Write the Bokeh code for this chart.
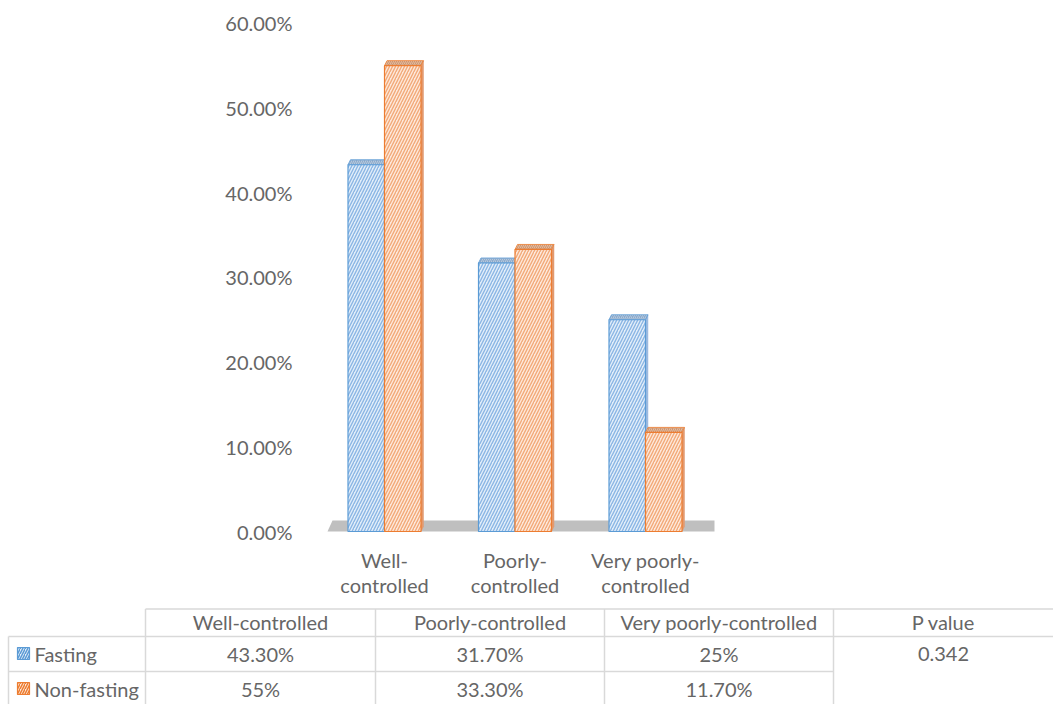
from bokeh.plotting import figure
from bokeh.layouts import column
from bokeh.models import Range1d, FixedTicker, PrintfTickFormatter, ColumnDataSource
from bokeh.core.properties import value
from bokeh.embed import file_html
from bokeh.resources import INLINE

# ---- data ----
categories = ["Well-controlled", "Poorly-controlled", "Very poorly-controlled"]
axis_labels = ["Well-\ncontrolled", "Poorly-\ncontrolled", "Very poorly-\ncontrolled"]
fasting = [43.3, 31.7, 25.0]
non_fasting = [55.0, 33.3, 11.7]
fasting_labels = ["43.30%", "31.70%", "25%"]
non_fasting_labels = ["55%", "33.30%", "11.70%"]
series_names = ["Fasting", "Non-fasting"]
p_value = "0.342"
y_ticks = [0, 10, 20, 30, 40, 50, 60]

FONT = "Lato"
FS = "20px"
TXT = "#666666"
GRID = "#d9d9d9"
BLUE_LINE, BLUE_FILL, BLUE_HATCH, BLUE_TOP = "#5b9bd5", "#e3eef9", "#8ab6e4", "#8eabcb"
ORNG_LINE, ORNG_FILL, ORNG_HATCH, ORNG_TOP = "#ed7d31", "#fde9dc", "#f2a978", "#cf9670"

W, H_CHART, H_TABLE = 1053, 604, 100
PX_PER_UNIT = 8.47   # vertical scale
ZERO_PX = 531
X_PX = 130.5         # px per category
X0_PX = 384          # centre of first category
FRAME_L, FRAME_R = 305, 745

y_end = ZERO_PX / PX_PER_UNIT
y_start = -(H_CHART - ZERO_PX) / PX_PER_UNIT
x_start = 1 - (X0_PX - FRAME_L) / X_PX
x_end = 1 + (FRAME_R - X0_PX) / X_PX

p = figure(width=W, height=H_CHART, output_backend="svg", toolbar_location=None,
           x_range=Range1d(x_start, x_end), y_range=Range1d(y_start, y_end),
           min_border_left=FRAME_L, min_border_right=W - FRAME_R,
           min_border_top=0, min_border_bottom=0)
p.frame_align = False
p.outline_line_color = None
p.background_fill_color = "white"
p.border_fill_color = "white"
p.xgrid.visible = False
p.ygrid.visible = False
p.xaxis.visible = False
ya = p.yaxis[0]
ya.ticker = FixedTicker(ticks=y_ticks)
ya.formatter = PrintfTickFormatter(format="%.2f%%")
ya.axis_line_color = None
ya.major_tick_line_color = None
ya.minor_tick_line_color = None
ya.major_label_text_font = FONT
ya.major_label_text_font_size = FS
ya.major_label_text_color = TXT
ya.major_label_standoff = 7

n = len(categories)
xs = list(range(1, n + 1))
bw = 36.5 / X_PX
dx = 2.5 / X_PX
dy = 5.0 / PX_PER_UNIT

# floor
fl_b = 1 - 57 / X_PX
fl_t = 1 - 52 / X_PX
fl_r = 1 + 330 / X_PX
fh = 11 / PX_PER_UNIT
p.patch([fl_b, fl_r, fl_r, fl_t], [0, 0, fh, fh], fill_color="#bfbfbf", line_color=None)

def bars(vals, offset, line, fill, hatch, top, side):
    left = [x + offset for x in xs]
    right = [l + bw for l in left]
    src = ColumnDataSource(dict(left=left, right=right, top=vals, bottom=[0] * n))
    # right side face
    p.patches([[r, r + dx, r + dx, r] for r in right],
              [[0, dy, v + dy, v] for v in vals],
              fill_color=side, line_color=side, line_width=0.5)
    # top face
    p.patches([[l, r, r + dx, l + dx] for l, r in zip(left, right)],
              [[v, v, v + dy, v + dy] for v in vals],
              fill_color=top, line_color=line, line_width=0.8,
              hatch_pattern="right_diagonal_line", hatch_color="#ffffff",
              hatch_alpha=0.35, hatch_scale=4, hatch_weight=1)
    p.quad(left="left", right="right", top="top", bottom="bottom", source=src,
           fill_color=fill, line_color=line, line_width=1.2,
           hatch_pattern="right_diagonal_line", hatch_color=hatch,
           hatch_scale=6, hatch_weight=1.4)

bars(fasting, -bw, BLUE_LINE, BLUE_FILL, BLUE_HATCH, BLUE_TOP, "#9dbbe0")
bars(non_fasting, 0, ORNG_LINE, ORNG_FILL, ORNG_HATCH, ORNG_TOP, "#e29a70")

# category labels
p.text(x=xs, y=[-(547 - ZERO_PX) / PX_PER_UNIT] * n, text=axis_labels,
       text_font=value(FONT), text_font_size=FS, text_color=TXT,
       text_align="center", text_baseline="top", text_line_height=1.05)

# ---- data table ----
t = figure(width=W, height=H_TABLE, output_backend="svg", toolbar_location=None,
           x_range=Range1d(0, W), y_range=Range1d(H_CHART + H_TABLE, H_CHART),
           min_border=0)
t.frame_align = False
t.outline_line_color = None
t.xgrid.visible = False
t.ygrid.visible = False
t.xaxis.visible = False
t.yaxis.visible = False

col_edges = [145, 375, 604, 833, W]
left_edge = 8
row_h = [608.5, 636, 671, 706]
t.segment(x0=[col_edges[0], left_edge, left_edge], y0=[row_h[0], row_h[1], row_h[2]],
          x1=[W, W, col_edges[3]], y1=[row_h[0], row_h[1], row_h[2]],
          line_color=GRID, line_width=1.5)
t.segment(x0=[left_edge] + col_edges[:4], y0=[row_h[1]] + [row_h[0]] * 4,
          x1=[left_edge] + col_edges[:4], y1=[row_h[3]] * 5,
          line_color=GRID, line_width=1.5)

centers = [(a + b) / 2 for a, b in zip(col_edges[:-1], col_edges[1:])]
hy, r1, r2 = 621, 653, 688
t.text(x=centers, y=[hy] * 4, text=categories + ["P value"],
       text_font=value(FONT), text_font_size=FS, text_color=TXT,
       text_align="center", text_baseline="middle")
t.text(x=centers, y=[r1] * 4, text=fasting_labels + [p_value],
       text_font=value(FONT), text_font_size=FS, text_color=TXT,
       text_align="center", text_baseline="middle")
t.text(x=centers[:3], y=[r2] * 3, text=non_fasting_labels,
       text_font=value(FONT), text_font_size=FS, text_color=TXT,
       text_align="center", text_baseline="middle")
t.text(x=[34, 34], y=[r1, r2], text=series_names,
       text_font=value(FONT), text_font_size=FS, text_color=TXT,
       text_align="left", text_baseline="middle")
t.rect(x=[23, 23], y=[r1, r2], width=12, height=12,
       fill_color=[BLUE_FILL, ORNG_FILL], line_color=[BLUE_LINE, ORNG_LINE],
       line_width=1.2, hatch_pattern="right_diagonal_line",
       hatch_color=[BLUE_LINE, ORNG_LINE], hatch_scale=5, hatch_weight=1.5)

layout = column(p, t, spacing=0)
open("out.html", "w").write(file_html(layout, INLINE))
